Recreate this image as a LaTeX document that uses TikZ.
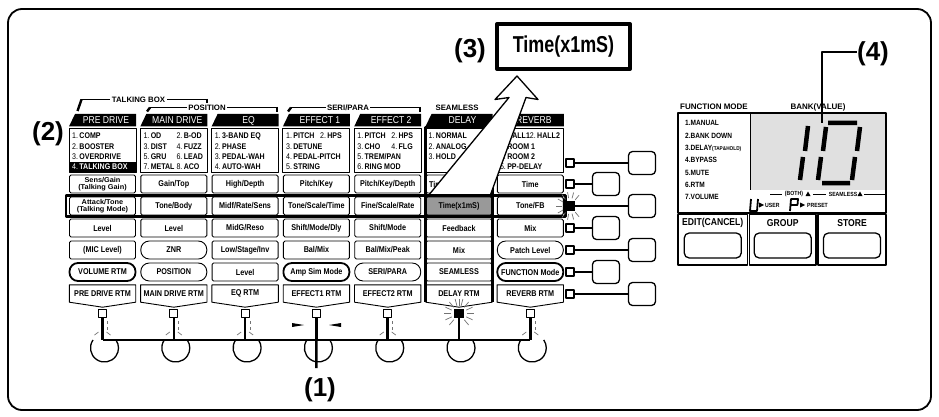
\documentclass[tikz,border=0pt]{standalone}
\usepackage{fontspec}
\setmainfont{Liberation Sans}
\newfontfamily\cnd[FakeStretch=0.86]{Liberation Sans}
\newfontfamily\nrw[FakeStretch=0.78]{Liberation Sans}
\newfontfamily\wde[FakeStretch=1.05]{Liberation Sans}
\tikzset{
  every picture/.style={line join=round},
  pbox/.style={draw,line width=0.9pt,rounded corners=1.5pt,minimum width=66pt,minimum height=18pt,inner sep=0pt,font=\cnd\bfseries\fontsize{8.4}{8.4}\selectfont},
  pboxii/.style={pbox,align=center,font=\wde\bfseries\fontsize{7}{7}\selectfont},
  pill/.style={pbox,rounded corners=8.5pt},
  tpill/.style={pill,line width=1.8pt},
  gbox/.style={pbox,fill=black!40},
  dbox/.style={pbox,text width=60pt,align=left},
  rtm/.style={minimum width=66pt,minimum height=17pt,inner sep=0pt,font=\cnd\bfseries\fontsize{8.4}{8.4}\selectfont},
  lst/.style={anchor=base west,inner sep=0pt,font=\cnd\bfseries\fontsize{8.2}{8.2}\selectfont},
  tabtxt/.style={text=white,inner sep=0pt,font=\cnd\fontsize{10}{10}\selectfont},
  grp/.style={fill=white,inner sep=1.5pt,font=\bfseries\fontsize{7.8}{8}\selectfont},
  led/.style={draw,line width=1.1pt,fill=white,minimum size=8pt,inner sep=0pt},
  sw/.style={draw,line width=1.3pt,rounded corners=4pt,minimum width=27pt,minimum height=23pt,inner sep=0pt},
  bus/.style={line width=2.6pt},
  ray/.style={black!55,line width=0.7pt},
  big/.style={inner sep=0pt,font=\bfseries\fontsize{26}{26}\selectfont},
  lead/.style={line width=2pt},
  fnt/.style={anchor=base west,inner sep=0pt,font=\cnd\bfseries\fontsize{7.6}{8}\selectfont},
  smalltxt/.style={inner sep=0pt,font=\cnd\bfseries\fontsize{6}{6}\selectfont},
  btn/.style={draw,line width=1.3pt,rounded corners=5pt,minimum width=57pt,minimum height=25pt},
}
\newcommand\nb[1]{{\mdseries#1.}\,}
\newcommand\modlist[2]{\foreach \lx [count=\k from 0] in {#2}
  \node[lst] (l#1\k) at ({72+71.3*#1},{139+10.3*\k}) {\lx};}

\begin{document}
\begin{tikzpicture}[x=1pt,y=-1pt]
\useasboundingbox (0,0) rectangle (939,417);
\draw[line width=1.8pt,rounded corners=14pt] (8,9) rectangle (931,410);

% module tabs and type lists
\fill (70,161.5) rectangle (136,171.8);
\foreach \tx [count=\i from 0] in {PRE DRIVE,MAIN DRIVE,EQ,EFFECT 1,EFFECT 2,DELAY,REVERB}{
  \fill ({69+71.3*\i},126.5) -- ++(6,-12.5) -- ++(61,0) -- ++(0,12.5) -- cycle;
  \node[tabtxt] (tab\i) at ({106+71.3*\i},120.5) {\tx};
  \draw[line width=0.9pt] ({69+71.3*\i},128.5) rectangle ++(67,43.5);
}
\modlist{0}{\nb{1}COMP,\nb{2}BOOSTER,\nb{3}OVERDRIVE,{\color{white}\nb{4}TALKING BOX}}
\modlist{1}{\makebox[33pt][l]{\nb{1}OD}\nb{2}B-OD,\makebox[33pt][l]{\nb{3}DIST}\nb{4}FUZZ,\makebox[33pt][l]{\nb{5}GRU}\nb{6}LEAD,\makebox[33pt][l]{\nb{7}METAL}\nb{8}ACO}
\modlist{2}{\nb{1}3-BAND EQ,\nb{2}PHASE,\nb{3}PEDAL-WAH,\nb{4}AUTO-WAH}
\modlist{3}{\makebox[34pt][l]{\nb{1}PITCH}\nb{2}HPS,\nb{3}DETUNE,\nb{4}PEDAL-PITCH,\nb{5}STRING}
\modlist{4}{\makebox[34pt][l]{\nb{1}PITCH}\nb{2}HPS,\makebox[34pt][l]{\nb{3}CHO}\nb{4}FLG,\nb{5}TREM/PAN,\nb{6}RING MOD}
\modlist{5}{\nb{1}NORMAL,\nb{2}ANALOG,\nb{3}HOLD}
\modlist{6}{\nb{1}HALL1\nb{2}HALL2,\nb{3}ROOM 1,\nb{4}ROOM 2,\nb{5}PP-DELAY}

% group brackets
\draw[line width=2.4pt] (77.5,111) -- (81.5,99.5);
\draw[line width=1.2pt] (81,99.5) -- (207,99.5);
\draw[line width=2.4pt] (207,99) -- (207,104);
\node[grp] (gtb) at (138.5,99.5) {TALKING BOX};
\draw[line width=2.4pt] (147,111.5) -- (150,107.5);
\draw[line width=1.2pt] (150,107.5) -- (277,107.5);
\draw[line width=2.4pt] (277,107) -- (277,112);
\node[grp] (gpos) at (207,107.5) {POSITION};
\draw[line width=2.4pt] (288,111.5) -- (291,107.5);
\draw[line width=1.2pt] (291,107.5) -- (420,107.5);
\draw[line width=2.4pt] (420,107) -- (420,112);
\node[grp] (gser) at (348,107.5) {SERI/PARA};
\node[grp] (gsml) at (457,107.5) {SEAMLESS};

% parameter keys
\foreach \st/\tx [count=\i from 0] in {pboxii/{Sens/Gain\\(Talking Gain)},pbox/{Gain/Top},pbox/{High/Depth},pbox/{Pitch/Key},pbox/{Pitch/Key/Depth},dbox/{Time},pbox/{Time}}
  \node[\st] (a\i) at ({102.5+71.3*\i},184) {\tx};
\foreach \st/\tx [count=\i from 0] in {pboxii/{Attack/Tone\\(Talking Mode)},pbox/{Tone/Body},pbox/{Midf/Rate/Sens},pbox/{Tone/Scale/Time},pbox/{Fine/Scale/Rate},gbox/{Time(x1mS)},pbox/{Tone/FB}}
  \node[\st] (b\i) at ({102.5+71.3*\i},206) {\tx};
\foreach \st/\tx [count=\i from 0] in {pbox/Level,pbox/Level,pbox/{MidG/Reso},pbox/{Shift/Mode/Dly},pbox/{Shift/Mode},pbox/Feedback,pbox/Mix}
  \node[\st] (c\i) at ({102.5+71.3*\i},228) {\tx};
\foreach \st/\tx [count=\i from 0] in {pbox/{(MIC Level)},pill/ZNR,pbox/{Low/Stage/Inv},pbox/{Bal/Mix},pbox/{Bal/Mix/Peak},pbox/Mix,pill/{Patch Level}}
  \node[\st] (d\i) at ({102.5+71.3*\i},250) {\tx};
\foreach \st/\tx [count=\i from 0] in {tpill/{VOLUME RTM},pill/POSITION,pbox/Level,tpill/{Amp Sim Mode},pill/{SERI/PARA},pbox/SEAMLESS,tpill/{FUNCTION Mode}}
  \node[\st] (e\i) at ({102.5+71.3*\i},272) {\tx};
\foreach \tx [count=\i from 0] in {PRE DRIVE RTM,MAIN DRIVE RTM,EQ RTM,EFFECT1 RTM,EFFECT2 RTM,DELAY RTM,REVERB RTM}{
  \node[rtm] (f\i) at ({102.5+71.3*\i},293.5) {\tx};
  \draw[line width=0.9pt] (f\i.north west) -- (f\i.north east) -- (f\i.south east) -- ([yshift=-5pt]f\i.south) -- (f\i.south west) -- cycle;
}

% selected module, arrow and edited row
\draw[line width=2.6pt] (425.5,302) -- (425.5,127.5) -- (492.5,127.5) -- (492.5,302);
\filldraw[fill=white,line width=1.3pt] (428,196) -- (509,97.5) -- (495,99.5) -- (517,76) -- (538,99.5) -- (526,97.5) -- (490,196);
\draw[line width=2.6pt] (66,195.5) rectangle (565.5,216.5);
\node[draw,line width=4pt,minimum width=133pt,minimum height=45pt,font=\nrw\bfseries\fontsize{23}{23}\selectfont] (tbox) at (563.5,46.5) {Time(x1mS)};
\node[big] (lbl3) at (470,51) {(3)};
\node[big] (lbl2) at (48,134) {(2)};

% right hand keys
\foreach \yy/\sx [count=\k] in {163/642,184/606,206/642,228/606,250/642,272/606,294/642}{
  \node[led] (ld\k) at (570,\yy) {};
  \node[sw] (sw\k) at (\sx,\yy) {};
  \draw[bus] (ld\k) -- (sw\k);
}
\fill (ld3.south west) rectangle (ld3.north east);
\foreach \a in {50,75,100,125,150,180,210,235,260,285,310}
  \draw[ray] ([shift={(\a:8)}]ld3.center) -- ([shift={(\a:14)}]ld3.center);

% footswitches
\foreach \i in {0,...,6}{
  \node[led] (bl\i) at ({102.5+71.3*\i},313.5) {};
  \coordinate (bb\i) at ({102.5+71.3*\i},340);
  \coordinate (fs\i) at ({104.5+71.3*\i},348);
  \draw[bus] (bl\i) -- (bb\i);
  \draw[line width=1.3pt] ([shift={(-145:14)}]fs\i) arc[start angle=-145,end angle=-395,radius=14];
}
\draw[bus] (bb0) -- (bb6);
\foreach \i in {0,1,2,4,6}{
  \draw[ray] ({107.5+71.3*\i},321) -- ++(0,3) ({107.5+71.3*\i},327) -- ++(0,2.5);
  \draw[ray] ({106.5+71.3*\i},332) -- ++(4,3) ({98.5+71.3*\i},332) -- ++(-4,3);
}
\fill (bl5.south west) rectangle (bl5.north east);
\foreach \a in {0,25,50,130,155,180,205,230,255,270,285,310,335}
  \draw[ray] ([shift={(\a:8)}]bl5.center) -- ([shift={(\a:15)}]bl5.center);
\fill (292,323) -- (304,325) -- (292,327) -- cycle;
\fill (341,323) -- (329,325) -- (341,327) -- cycle;
\node[big] (lbl1) at (320,390) {(1)};
\coordinate (e1) at (316.4,368);
\draw[bus] (bb3) -- (e1);

% display panel
\node[font=\bfseries\fontsize{8}{8}\selectfont,inner sep=0pt] (fmode) at (714,107) {FUNCTION MODE};
\node[font=\bfseries\fontsize{8}{8}\selectfont,inner sep=0pt] (bank) at (818,107) {BANK(VALUE)};
\fill[black!12] (751,113.5) rectangle (885.5,190);
\draw[line width=1.1pt] (678,113) rectangle (886,213);
\draw[line width=1.1pt] (750.5,113) -- (750.5,190);
\foreach \tx [count=\k from 0] in {1.MANUAL,2.BANK DOWN,3.DELAY{\fontsize{5.5}{6}\selectfont(TAP\&HOLD)},4.BYPASS,5.MUTE,6.RTM,7.VOLUME}
  \node[fnt] (fm\k) at (685,{126+12.3*\k}) {\tx};
\begin{scope}[line width=4.5pt]
\draw (808,126) -- (805,151) (803,157) -- (800,180);
\draw (828,123) -- (857,123) (826,127) -- (823,151) (821,157) -- (818,180) (822,183) -- (850,183) (860,127) -- (857,151) (855,157) -- (852,180);
\end{scope}
\node[big] (lbl4) at (873,54) {(4)};
\coordinate (dig) at (822,123);
\draw[lead] ([yshift=2pt]lbl4.west) -| (dig);
\draw[line width=0.8pt] (770,194) -- (782,194) (813,194) -- (826,194) (864,194) -- (885,194);
\node[smalltxt] (both) at (794,194) {(BOTH)};
\fill (805.5,196) -- (808,191.5) -- (810.5,196) -- cycle;
\node[smalltxt] (sml) at (843,194) {SEAMLESS};
\fill (857.5,196) -- (860,191.5) -- (862.5,196) -- cycle;
\draw[line width=1.8pt] (751,199) -- (750,211) -- (757,211) -- (758,199);
\fill (759,202.5) -- (764,205) -- (759,207.5) -- cycle;
\node[smalltxt,anchor=west] (usr) at (765,205.5) {USER};
\draw[line width=1.8pt] (790,211) -- (791,199) -- (798,199) -- (797.5,205) -- (790.5,205);
\fill (800,202.5) -- (805,205) -- (800,207.5) -- cycle;
\node[smalltxt,anchor=west] (pst) at (807,205.5) {PRESET};
\foreach \x/\w/\tx [count=\k] in {678/69.5/EDIT(CANCEL),749.5/66.5/GROUP,818/68/STORE}{
  \draw[line width=1.1pt] (\x,214.5) rectangle ++(\w,50.5);
  \node[font=\cnd\bfseries\fontsize{10}{10}\selectfont,inner sep=0pt] (kt\k) at ({\x+\w/2},223) {\tx};
  \node[btn] (key\k) at ({\x+\w/2},245.5) {};
}
\end{tikzpicture}
\end{document}
